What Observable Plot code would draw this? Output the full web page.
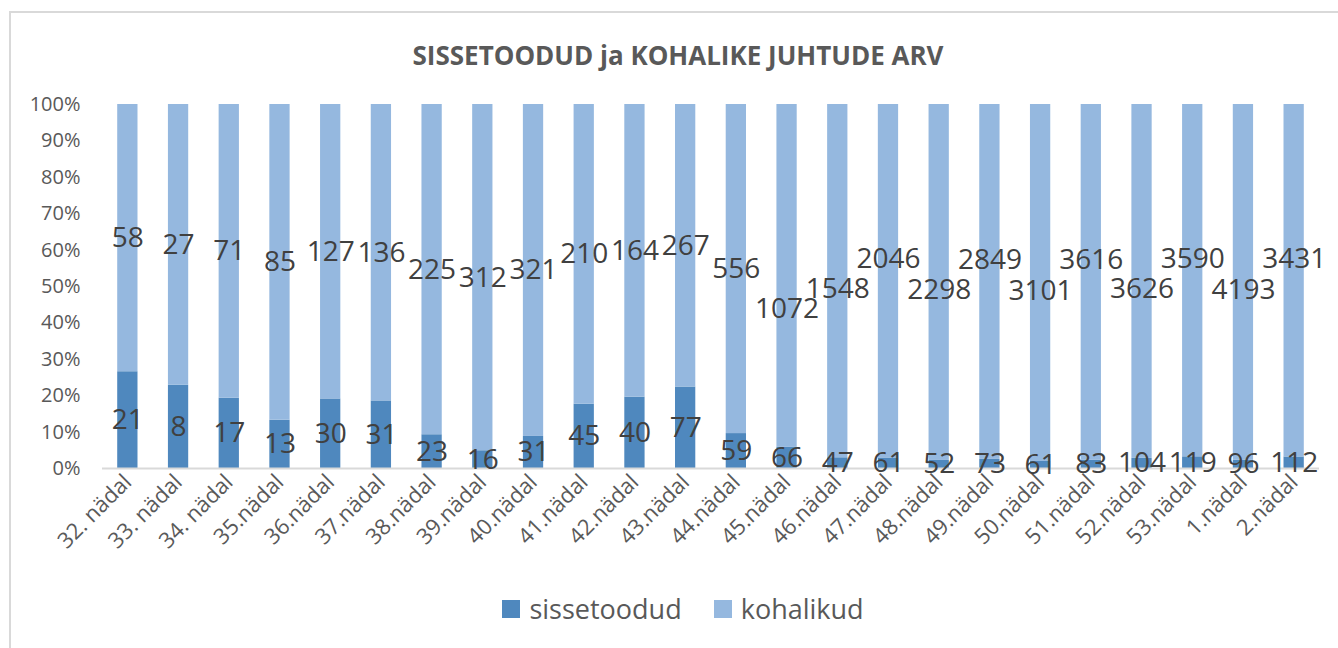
<!DOCTYPE html>
<html>
<head>
<meta charset="utf-8">
<script src="https://cdn.jsdelivr.net/npm/d3@7"></script>
<script src="https://cdn.jsdelivr.net/npm/@observablehq/plot@0.6"></script>
<style>
  html, body { margin: 0; padding: 0; background: #fff; width: 1338px; height: 648px; overflow: hidden; }
  #frame { position: absolute; left: 9px; top: 11px; right: -10px; bottom: -10px; border-top: 2px solid #d9d9d9; border-left: 2px solid #d9d9d9; }
  #title { position: absolute; left: 18px; width: 1320px; top: 37px; text-align: center; font-family: "Open Sans", sans-serif; font-weight: bold; font-size: 26px; color: #595959; }
  #chart { position: absolute; left: 0; top: 80px; }
  #legend { position: absolute; left: 0; width: 1338px; top: 590px; display: flex; justify-content: center; font-family: "Open Sans", sans-serif; font-size: 27px; color: #595959; padding-left: 28px; box-sizing: border-box; }
  .item { display: flex; align-items: center; margin: 0 16px; }
  .sw { width: 18px; height: 18px; margin-right: 9px; }
</style>
</head>
<body>
<div id="frame"></div>
<div id="title">SISSETOODUD ja KOHALIKE JUHTUDE ARV</div>
<div id="chart"></div>
<div id="legend"></div>
<script>
const categories = ["32. nädal","33. nädal","34. nädal","35.nädal","36.nädal","37.nädal","38.nädal","39.nädal","40.nädal","41.nädal","42.nädal","43.nädal","44.nädal","45.nädal","46.nädal","47.nädal","48.nädal","49.nädal","50.nädal","51.nädal","52.nädal","53.nädal","1.nädal","2.nädal"];
const sissetoodud = [21,8,17,13,30,31,23,16,31,45,40,77,59,66,47,61,52,73,61,83,104,119,96,112];
const kohalikud = [58,27,71,85,127,136,225,312,321,210,164,267,556,1072,1548,2046,2298,2849,3101,3616,3626,3590,4193,3431];
const seriesNames = ["sissetoodud","kohalikud"];
const seriesColors = ["#4f88be","#95b8df"];
const yTicks = [0,0.1,0.2,0.3,0.4,0.5,0.6,0.7,0.8,0.9,1];

// layout
const W = 1338, H = 490, mT = 24, mB = 102, mL = 102, mR = 19;
const labelFont = 28;
const plotH = H - mT - mB;
const step = (W - mL - mR) / 24;

const seriesValues = [sissetoodud, kohalikud];
const data = seriesNames.flatMap((s, si) => categories.map((c, i) => ({week: c, series: s, value: seriesValues[si][i]})));

// label positions: centre of each segment; labels wider than a band alternate up/down,
// and a wide label that hits a narrower neighbour is pushed clear of it (like Excel does)
const labels = [];
seriesNames.forEach((s, si) => {
  let prev = null;
  categories.forEach((c, i) => {
    const a = sissetoodud[i], b = kohalikud[i], tot = a + b;
    const mid = si === 0 ? a / tot / 2 : (a / tot + 1) / 2;
    const v = seriesValues[si][i];
    const w = String(v).length * 0.572 * labelFont;
    const wide = w > step + 8;
    const natural = mT + (1 - mid) * plotH;
    let y = natural;
    if (wide) y += (i % 2 ? -22 : 8);
    const x = i * step;
    if (prev && !(wide && prev.wide) && Math.abs(x - prev.x) < (w + prev.w) / 2 && Math.abs(y - prev.y) < 22) {
      const opts = [prev.y + 40, prev.y - 40];
      y = Math.abs(opts[0] - natural) <= Math.abs(opts[1] - natural) ? opts[0] : opts[1];
    }
    prev = {x, y, w, wide};
    labels.push({week: c, series: s, value: v, pos: 1 - (y - mT) / plotH});
  });
});

const chart = Plot.plot({
  width: W,
  height: H,
  marginTop: mT,
  marginBottom: mB,
  marginLeft: mL,
  marginRight: mR,
  style: {fontFamily: "'Open Sans', sans-serif", fontSize: "20px", color: "#595959", background: "transparent"},
  x: {domain: categories, paddingInner: 0.6, paddingOuter: 0.3, round: false, label: null, tickRotate: -45, tickSize: 0, tickPadding: 10},
  y: {domain: [0, 1], ticks: yTicks, tickFormat: d => Math.round(d * 100) + "%", label: null, tickSize: 0, tickPadding: 22},
  color: {domain: seriesNames, range: seriesColors},
  marks: [
    Plot.barY(data, Plot.stackY({x: "week", y: "value", z: "series", fill: "series", offset: "normalize", order: seriesNames})),
    Plot.ruleY([0], {stroke: "#d9d9d9", strokeWidth: 2}),
    Plot.text(labels, {x: "week", y: "pos", text: d => String(d.value), fontSize: labelFont, fill: "#404040"})
  ]
});
// larger x tick labels
chart.querySelectorAll("g[aria-label='x-axis tick label'] text").forEach(t => t.setAttribute("font-size", "22"));
document.getElementById("chart").appendChild(chart);

const legend = document.getElementById("legend");
seriesNames.forEach((s, i) => {
  const item = document.createElement("div");
  item.className = "item";
  const sw = document.createElement("div");
  sw.className = "sw";
  sw.style.background = seriesColors[i];
  const t = document.createElement("span");
  t.textContent = s;
  item.appendChild(sw);
  item.appendChild(t);
  legend.appendChild(item);
});
</script>
</body>
</html>
